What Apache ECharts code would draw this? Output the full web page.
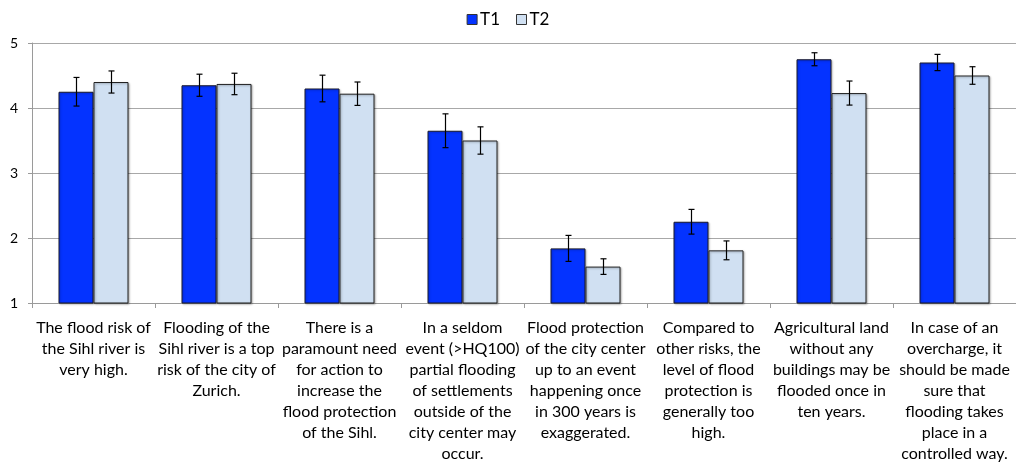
<!DOCTYPE html>
<html>
<head>
<meta charset="utf-8">
<script src="https://cdn.jsdelivr.net/npm/echarts@6/dist/echarts.min.js"></script>
<style>
  html, body { margin: 0; padding: 0; background: #fff; }
  #chart { width: 1016px; height: 466px; }
</style>
</head>
<body>
<div id="chart"></div>
<script>
// categories (statements)
const categories = [
  'The flood risk of\nthe Sihl river is\nvery high.',
  'Flooding of the\nSihl river is a top\nrisk of the city of\nZurich.',
  'There is a\nparamount need\nfor action to\nincrease the\nflood protection\nof the Sihl.',
  'In a seldom\nevent (>HQ100)\npartial flooding\nof settlements\noutside of the\ncity center may\noccur.',
  'Flood protection\nof the city center\nup to an event\nhappening once\nin 300 years is\nexaggerated.',
  'Compared to\nother risks, the\nlevel of flood\nprotection is\ngenerally too\nhigh.',
  'Agricultural land\nwithout any\nbuildings may be\nflooded once in\nten years.',
  'In case of an\novercharge, it\nshould be made\nsure that\nflooding takes\nplace in a\ncontrolled way.'
]
const t1Values = [4.25, 4.35, 4.30, 3.65, 1.84, 2.25, 4.75, 4.70]
const t2Values = [4.40, 4.37, 4.22, 3.50, 1.56, 1.81, 4.23, 4.50]
// error margins (+/-)
const t1Err = [0.22, 0.17, 0.205, 0.26, 0.20, 0.19, 0.10, 0.125]
const t2Err = [0.17, 0.165, 0.18, 0.21, 0.12, 0.145, 0.185, 0.135]
const yTicks = [1, 2, 3, 4, 5]

const BAR_W = 35

function errData(vals, errs) {
  return vals.map((v, i) => [i, v - errs[i], v + errs[i]])
}

// 误差线
function errRender(offset) {
  return function(params, api) {
    const x = api.value(0)
    const lo = api.coord([x, api.value(1)])
    const hi = api.coord([x, api.value(2)])
    const cx = Math.round(lo[0] + offset) + 0.5
    const cap = 3
    const style = { stroke: '#000', lineWidth: 1.2 }
    return {
      type: 'group',
      children: [
        { type: 'line', shape: { x1: cx, y1: hi[1], x2: cx, y2: lo[1] }, style: style },
        { type: 'line', shape: { x1: cx - cap, y1: hi[1], x2: cx + cap, y2: hi[1] }, style: style },
        { type: 'line', shape: { x1: cx - cap, y1: lo[1], x2: cx + cap, y2: lo[1] }, style: style }
      ]
    }
  }
}

const chart = echarts.init(document.getElementById('chart'))
const option = {
  animation: false,
  textStyle: { fontFamily: 'Lato, "Open Sans", sans-serif' },
  legend: {
    top: 6,
    left: 'center',
    itemWidth: 10,
    itemHeight: 10,
    itemGap: 16,
    icon: 'rect',
    data: ['T1', 'T2'],
    itemStyle: { borderColor: '#333', borderWidth: 1 },
    textStyle: { fontSize: 17, color: '#000', padding: [0, 0, 0, -2] }
  },
  grid: { left: 32, right: -2, top: 43, bottom: 163 },
  xAxis: {
    type: 'category',
    data: categories,
    axisLine: { lineStyle: { color: '#9a9a9a' } },
    axisTick: { show: true, length: 5, lineStyle: { color: '#9a9a9a' } },
    axisLabel: {
      interval: 0,
      color: '#000',
      fontSize: 16,
      lineHeight: 21,
      margin: 14,
      align: 'center'
    }
  },
  yAxis: {
    type: 'value',
    min: yTicks[0],
    max: yTicks[yTicks.length - 1],
    interval: 1,
    axisLine: { show: true, lineStyle: { color: '#9a9a9a' } },
    axisTick: { show: true, length: 4, lineStyle: { color: '#9a9a9a' } },
    splitLine: { lineStyle: { color: '#a8a8a8' } },
    axisLabel: { color: '#000', fontSize: 14, margin: 14 }
  },
  series: [
    {
      name: 'T1',
      type: 'bar',
      data: t1Values,
      barWidth: BAR_W,
      barGap: '0%',
      itemStyle: {
        color: '#0433ff',
        borderColor: '#1a1a2a',
        borderWidth: 1,
        shadowColor: 'rgba(0,0,0,0.25)',
        shadowOffsetX: 1,
        shadowOffsetY: 1,
        shadowBlur: 2
      }
    },
    {
      name: 'T2',
      type: 'bar',
      data: t2Values,
      barWidth: BAR_W,
      barGap: '0%',
      itemStyle: {
        color: '#d0e0f2',
        borderColor: '#222',
        borderWidth: 1,
        shadowColor: 'rgba(0,0,0,0.3)',
        shadowOffsetX: 1,
        shadowOffsetY: 1,
        shadowBlur: 2
      }
    },
    {
      name: 'T1 err',
      type: 'custom',
      renderItem: errRender(-BAR_W / 2),
      data: errData(t1Values, t1Err),
      encode: { x: 0, y: [1, 2] },
      z: 10
    },
    {
      name: 'T2 err',
      type: 'custom',
      renderItem: errRender(BAR_W / 2),
      data: errData(t2Values, t2Err),
      encode: { x: 0, y: [1, 2] },
      z: 10
    }
  ]
}
chart.setOption(option)
</script>
</body>
</html>
